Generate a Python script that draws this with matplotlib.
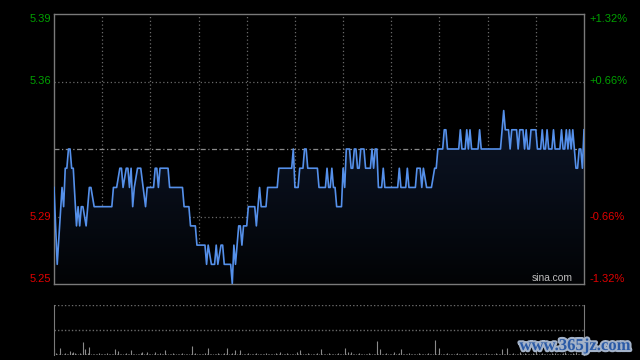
import numpy as np
import matplotlib
matplotlib.use('Agg')
import matplotlib.pyplot as plt
import matplotlib.patheffects as pe
from matplotlib.patches import Polygon

# previous close and the +/- band shown on the axis
PREV_CLOSE = 5.32
BAND = 0.0132

# intraday price (minute of session -> price), HK session 330 minutes
minutes = [
  0, 2, 5, 6, 7, 8, 9, 10, 11, 12, 14, 15, 16, 17, 18, 20, 22, 23, 25, 36,
  37, 39, 41, 42, 43, 45, 46, 47, 48, 49, 50, 52, 54, 57, 58, 62, 63, 64, 65, 66,
  71, 72, 80, 81, 84, 85, 88, 89, 94, 95, 96, 98, 100, 101, 102, 104, 105, 106, 110, 111,
  112, 113, 115, 116, 117, 118, 120, 121, 125, 126, 127, 128, 129, 132, 133, 139, 140, 148, 149, 150,
  152, 153, 155, 156, 157, 158, 164, 165, 169, 170, 171, 172, 173, 174, 175, 176, 179, 180, 181, 182,
  184, 185, 186, 187, 188, 189, 190, 191, 193, 194, 197, 198, 199, 200, 201, 202, 204, 205, 206, 214,
  215, 216, 219, 220, 221, 225, 226, 228, 229, 230, 232, 235, 237, 238, 239, 242, 243, 244, 245, 252,
  253, 254, 256, 257, 258, 259, 260, 264, 265, 266, 278, 280, 281, 283, 284, 285, 288, 289, 290, 292,
  293, 294, 295, 296, 297, 300, 301, 303, 304, 305, 306, 307, 308, 310, 311, 312, 315, 316, 317, 318,
  319, 320, 321, 322, 323, 324, 325, 326, 327, 328, 329, 330,
]
prices = [
  5.30, 5.26, 5.30, 5.29, 5.31, 5.31, 5.32, 5.32, 5.31, 5.31, 5.28, 5.29, 5.28, 5.29, 5.29, 5.28, 5.30, 5.30, 5.29, 5.29,
  5.30, 5.30, 5.31, 5.31, 5.30, 5.31, 5.31, 5.30, 5.31, 5.29, 5.30, 5.31, 5.31, 5.29, 5.30, 5.30, 5.31, 5.31, 5.30, 5.31,
  5.31, 5.30, 5.30, 5.29, 5.29, 5.28, 5.28, 5.27, 5.27, 5.26, 5.27, 5.26, 5.26, 5.27, 5.26, 5.27, 5.27, 5.26, 5.26, 5.25,
  5.27, 5.26, 5.28, 5.28, 5.27, 5.28, 5.28, 5.29, 5.29, 5.28, 5.29, 5.30, 5.29, 5.29, 5.30, 5.30, 5.31, 5.31, 5.32, 5.30,
  5.30, 5.31, 5.31, 5.32, 5.32, 5.31, 5.31, 5.30, 5.30, 5.31, 5.30, 5.30, 5.31, 5.30, 5.30, 5.29, 5.29, 5.31, 5.30, 5.32,
  5.32, 5.31, 5.31, 5.32, 5.32, 5.31, 5.31, 5.32, 5.32, 5.31, 5.31, 5.32, 5.31, 5.32, 5.32, 5.30, 5.30, 5.31, 5.30, 5.30,
  5.31, 5.30, 5.30, 5.31, 5.30, 5.30, 5.31, 5.31, 5.30, 5.31, 5.30, 5.30, 5.31, 5.31, 5.32, 5.32, 5.33, 5.33, 5.32, 5.32,
  5.33, 5.32, 5.32, 5.33, 5.32, 5.33, 5.32, 5.32, 5.33, 5.32, 5.32, 5.34, 5.33, 5.33, 5.32, 5.33, 5.33, 5.32, 5.33, 5.33,
  5.32, 5.33, 5.32, 5.32, 5.33, 5.33, 5.32, 5.32, 5.33, 5.32, 5.32, 5.33, 5.32, 5.32, 5.33, 5.32, 5.32, 5.33, 5.32, 5.32,
  5.33, 5.32, 5.33, 5.32, 5.33, 5.32, 5.31, 5.31, 5.32, 5.32, 5.31, 5.33,
]

# per-minute volume (relative units, panel top = 100)
volume = [
  13, 3, 2, 2, 13, 2, 2, 3, 2, 2, 7, 4, 6, 3, 2, 2, 3, 2, 25, 11,
  2, 3, 15, 2, 2, 1, 2, 2, 3, 2, 2, 1, 2, 3, 2, 2, 1, 2, 11, 2,
  7, 2, 2, 1, 2, 3, 2, 2, 9, 2, 2, 1, 2, 2, 3, 6, 2, 2, 5, 2,
  2, 1, 2, 6, 2, 2, 3, 2, 2, 9, 2, 2, 1, 2, 3, 2, 2, 1, 2, 2,
  3, 2, 2, 1, 2, 2, 17, 2, 3, 2, 2, 1, 2, 2, 3, 2, 13, 2, 2, 1,
  2, 2, 3, 2, 1, 2, 4, 2, 13, 2, 2, 3, 2, 9, 2, 2, 9, 2, 1, 2,
  2, 4, 2, 1, 2, 2, 3, 2, 2, 1, 2, 2, 3, 2, 1, 2, 2, 2, 3, 2,
  2, 5, 2, 1, 2, 3, 2, 2, 1, 2, 2, 6, 2, 9, 2, 1, 2, 2, 3, 2,
  2, 1, 2, 2, 3, 2, 11, 2, 1, 2, 2, 3, 2, 2, 1, 2, 2, 3, 2, 2,
  2, 13, 2, 6, 2, 5, 2, 1, 2, 2, 3, 2, 2, 1, 2, 2, 3, 2, 2, 1,
  2, 27, 2, 11, 2, 1, 2, 3, 2, 2, 2, 1, 5, 2, 2, 3, 11, 2, 1, 2,
  2, 3, 2, 2, 1, 2, 2, 3, 2, 2, 1, 2, 2, 3, 2, 2, 1, 29, 2, 2,
  13, 2, 2, 1, 2, 3, 2, 2, 1, 2, 2, 3, 2, 2, 1, 2, 2, 3, 2, 2,
  1, 2, 2, 3, 2, 2, 1, 2, 2, 3, 2, 2, 1, 2, 2, 3, 2, 2, 1, 11,
  2, 2, 13, 2, 1, 2, 3, 2, 2, 1, 5, 2, 2, 3, 2, 1, 2, 2, 3, 2,
  7, 2, 1, 2, 3, 2, 2, 1, 2, 2, 4, 2, 3, 2, 1, 2, 2, 3, 6, 2,
  2, 1, 2, 3, 2, 5, 2, 2, 1, 3, 8,
]

price_ticks = [5.39, 5.36, 5.29, 5.25]
pct_ticks = ['+1.32%', '+0.66%', '-0.66%', '-1.32%']

GREEN = '#00a000'
RED = '#e00000'
GRID = '#6a6a6a'
BORDER = '#7a7a7a'
LINE = '#5590ea'

SESSION = 330
ymax = PREV_CLOSE * (1 + BAND)
ymin = PREV_CLOSE * (1 - BAND)
tick_pos = [ymax, PREV_CLOSE * (1 + BAND / 2), PREV_CLOSE * (1 - BAND / 2), ymin]

plt.rcParams['font.family'] = ['Liberation Sans', 'DejaVu Sans']

fig = plt.figure(figsize=(6.4, 3.6), dpi=100, facecolor='black')
ax = fig.add_axes([54 / 640, 76 / 360, 530 / 640, 270 / 360])
ax.set_facecolor('black')
ax.set_xlim(0, SESSION)
ax.set_ylim(ymin, ymax)
ax.set_xticks([])
ax.set_yticks([])
for s in ax.spines.values():
  s.set_color(BORDER)
  s.set_linewidth(1.0)

# grid
for m in range(30, SESSION, 30):
  ax.axvline(m, color=GRID, lw=0.9, linestyle=(0, (1, 2)), zorder=1)
for y in tick_pos[1:3]:
  ax.axhline(y, color=GRID, lw=0.9, linestyle=(0, (1, 2)), zorder=1)
ax.axhline(PREV_CLOSE, color='#8a8a8a', lw=0.9, linestyle=(0, (4, 2, 1, 2)), zorder=1)

# gradient fill under the price line
x = np.array(minutes, dtype=float)
p = np.array(prices)
grad = np.linspace(0, 1, 256).reshape(-1, 1)
cmap = matplotlib.colors.LinearSegmentedColormap.from_list(
  'fill', ['#020305', '#0d1628'])
img = ax.imshow(grad, extent=[0, SESSION, ymin, p.max()], origin='lower',
  aspect='auto', cmap=cmap, zorder=2)
poly = Polygon(np.column_stack([np.r_[x, x[-1], x[0]], np.r_[p, ymin, ymin]]),
  closed=True, facecolor='none', edgecolor='none')
ax.add_patch(poly)
img.set_clip_path(poly)
ax.plot(x, p, color=LINE, lw=1.2, zorder=3)

# price / percent labels
for i, (pos, lab, pct) in enumerate(zip(tick_pos, price_ticks, pct_ticks)):
  col = GREEN if i < 2 else RED
  va = 'top' if i == 0 else ('bottom' if i == 3 else 'center')
  ax.text(-0.006, pos, '%.2f' % lab, transform=ax.get_yaxis_transform(),
    ha='right', va=va, color=col, fontsize=8)
  ax.text(1.011, pos, pct, transform=ax.get_yaxis_transform(),
    ha='left', va=va, color=col, fontsize=8)

ax.text(0.979, 0.004, 'sina.com', transform=ax.transAxes, ha='right', va='bottom',
  color='#bdbdbd', fontsize=7.4, zorder=4)

# volume panel
axv = fig.add_axes([54 / 640, 5 / 360, 530 / 640, 50.5 / 360])
axv.set_facecolor('black')
axv.set_xlim(0, SESSION)
axv.set_ylim(0, 100)
axv.set_xticks([])
axv.set_yticks([])
for k in ['top', 'bottom']:
  axv.spines[k].set_visible(False)
for k in ['left', 'right']:
  axv.spines[k].set_color(BORDER)
axv.axhline(100, color=GRID, lw=1.0, linestyle=(0, (1, 1.5)))
axv.axhline(50, color=GRID, lw=1.0, linestyle=(0, (1, 1.5)))
axv.vlines(np.arange(len(volume)), 0, volume, color='#8a8a8a', lw=0.8)

fig.text(575 / 640, 1 - 346 / 360, 'www.365jz.com', ha='center', va='center',
  fontsize=12, fontweight='bold', family='Liberation Serif', color='#2a5aa6',
  path_effects=[pe.withStroke(linewidth=3, foreground='#a3b2c8')])

fig.savefig('out.png', dpi=100, facecolor='black')
